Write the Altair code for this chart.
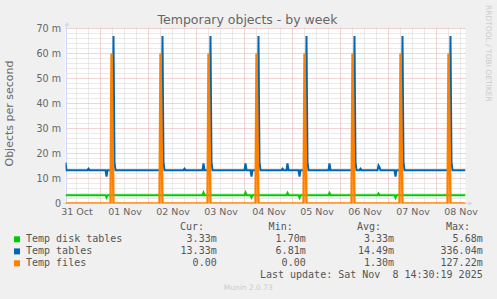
import altair as alt
import pandas as pd

# ------------------------------------------------------------------ data
TITLE = "Temporary objects - by week"
Y_TITLE = "Objects per second"
DAY_LABELS = ["31 Oct", "01 Nov", "02 Nov", "03 Nov", "04 Nov",
              "05 Nov", "06 Nov", "07 Nov", "08 Nov"]
DAY_LABEL_HOURS = [12, 36, 60, 84, 108, 132, 156, 180, 204]   # hours since 31 Oct 00:00
Y_TICKS = [0, 10, 20, 30, 40, 50, 60, 70]                      # milli objects / s
X_DOMAIN = [6.5, 206.5]
Y_DOMAIN = [0, 70]

# Temp disk tables (hours, milli/s)
disk_t = [6.5, 26.5, 27, 27.5, 75, 75.5, 76, 96, 96.5, 97, 99, 99.5, 100,
          117, 117.5, 118, 123, 123.5, 124, 138, 138.5, 139, 162.5, 163, 163.5,
          171, 171.5, 172, 206.5]
disk_v = [3.33, 3.33, 2.4, 3.33, 3.33, 4.4, 3.33, 3.33, 4.4, 3.33, 3.33, 2.4, 3.33,
          3.33, 4.2, 3.33, 3.33, 2.3, 3.33, 3.33, 4.2, 3.33, 3.33, 4.0, 3.33,
          3.33, 2.3, 3.33, 3.33]

# Temp tables
tables_t = [6.5, 7, 17.5, 18, 18.5, 26.5, 27, 27.5,
            30, 30.5, 31, 31.5,
            54.5, 55, 55.5, 56,
            65.5, 66, 66.5, 75, 75.5, 76,
            78.5, 79, 79.5, 80,
            96, 96.5, 97, 99, 99.5, 100,
            102.5, 103, 103.5, 104,
            114.5, 115, 115.5, 117, 117.5, 118, 123, 123.5, 124,
            126.5, 127, 127.5, 128,
            138, 138.5, 139,
            150.5, 151, 151.5, 152,
            153.5, 154, 154.5, 162.5, 163, 163.5, 164, 171, 171.5, 172,
            174.5, 175, 175.5, 176,
            198.5, 199, 199.5, 200,
            206.5]
tables_v = [16.3, 13.33, 13.33, 13.9, 13.33, 13.33, 10.8, 13.33,
            13.33, 67, 16.5, 13.33,
            13.33, 67, 16.5, 13.33,
            13.33, 13.9, 13.33, 13.33, 16.0, 13.33,
            13.33, 67, 16.5, 13.33,
            13.33, 16.0, 13.33, 13.33, 10.8, 13.33,
            13.33, 67, 16.5, 13.33,
            13.33, 13.9, 13.33, 13.33, 16.0, 13.33, 13.33, 10.8, 13.33,
            13.33, 67, 16.5, 13.33,
            13.33, 16.0, 13.33,
            13.33, 67, 16.5, 13.33,
            13.33, 13.9, 13.33, 13.33, 15.2, 14.5, 13.33, 13.33, 10.8, 13.33,
            13.33, 67, 16.5, 13.33,
            13.33, 67, 16.5, 13.33,
            13.33]

# Temp files
files_t = [6.5, 29, 29.5, 30.5, 53.5, 54, 55, 77.5, 78, 79, 101.5, 102, 103,
           125.5, 126, 127, 149.5, 150, 151, 173.5, 174, 175,
           197.5, 198, 199, 206.5]
files_v = [0, 0, 60, 0, 0, 60, 0, 0, 60, 0, 0, 60, 0,
           0, 60, 0, 0, 60, 0, 0, 60, 0,
           0, 60, 0, 0]

NAMES = ["Temp disk tables", "Temp tables", "Temp files"]
COLORS = ["#00CC00", "#0066B3", "#FF8000"]
CUR = ["3.33m", "13.33m", "0.00 "]
MIN = ["1.70m", "6.81m", "0.00 "]
AVG = ["3.33m", "14.49m", "1.30m"]
MAX = ["5.68m", "336.04m", "127.22m"]
HEADERS = ["Cur:", "Min:", "Avg:", "Max:"]
LAST_UPDATE = "Last update: Sat Nov  8 14:30:19 2025"
FOOTER = "Munin 2.0.73"
WATERMARK = "RRDTOOL / TOBI OETIKER"

# ------------------------------------------------------------------ style
W, H = 400, 175
PAD_L, PAD_T = 65.5, 28.5
SANS = "DejaVu Sans"
MONO = "DejaVu Sans Mono"
TXT = "#666666"
LEG = "#555555"
AXC = "#CFD6F8"
MAJOR = "#E8ABAB"
MINOR = "#D4D4D4"


def nb(s):
    s = s.replace("  ", " \u00a0")
    if s.endswith(" "):
        s = s[:-1] + "\u00a0"
    return s


def ax(px):      # absolute page x -> plot-relative
    return px - PAD_L


def ay(py):
    return py - PAD_T


xs = alt.Scale(domain=X_DOMAIN, nice=False, zero=False)
ys = alt.Scale(domain=Y_DOMAIN, nice=False, zero=False)
label_arr = "[" + ",".join("'%s'" % d for d in DAY_LABELS) + "]"
x_axis = alt.Axis(values=DAY_LABEL_HOURS,
                  labelExpr=label_arr + "[round((datum.value-12)/24)]",
                  grid=False, ticks=False, domain=False, title=None,
                  labelFont=SANS, labelFontSize=9.5, labelColor=TXT,
                  labelPadding=3, labelFlush=False, labelBound=False, labelOverlap=False)
y_axis = alt.Axis(values=Y_TICKS,
                  labelExpr="datum.value == 0 ? '0' : datum.value + ' m'",
                  grid=False, ticks=False, domain=False, title=None,
                  labelFont=SANS, labelFontSize=9.6, labelColor=TXT,
                  labelPadding=5, labelOverlap=False)

one = pd.DataFrame({"a": [0]})


def grid_x(vals, color):
    return alt.Chart(pd.DataFrame({"g": vals})).mark_rule(
        color=color, strokeWidth=1, strokeDash=[1, 1]).encode(
        x=alt.X("g:Q", scale=xs, axis=x_axis))


def grid_y(vals, color):
    return alt.Chart(pd.DataFrame({"g": vals})).mark_rule(
        color=color, strokeWidth=1, strokeDash=[1, 1]).encode(
        y=alt.Y("g:Q", scale=ys, axis=y_axis))


def line(t, v, color, sw=2):
    return alt.Chart(pd.DataFrame({"t": t, "v": v})).mark_line(
        color=color, strokeWidth=sw, clip=True).encode(
        x=alt.X("t:Q", scale=xs, axis=x_axis),
        y=alt.Y("v:Q", scale=ys, axis=y_axis))


def text(s, x, y, align="left", size=10, font=MONO, color=LEG, angle=0, baseline="middle"):
    return alt.Chart(pd.DataFrame({"s": [s]})).mark_text(
        align=align, baseline=baseline, font=font, fontSize=size,
        color=color, angle=angle).encode(
        text="s:N", x=alt.value(ax(x)), y=alt.value(ay(y)))


minor_x = [h for h in range(12, 207, 6) if h % 24]
major_x = [h for h in range(24, 207, 24)]
minor_y = [v for v in range(2, 70, 2) if v % 10]
major_y = [v for v in range(10, 71, 10)]

layers = [
    grid_x(minor_x, MINOR), grid_y(minor_y, MINOR),
    grid_x(major_x, MAJOR), grid_y(major_y, MAJOR),
    # axis lines + arrows
    alt.Chart(one).mark_rule(color=AXC, strokeWidth=1).encode(
        x=alt.value(1), y=alt.value(-3), y2=alt.value(H)),
    alt.Chart(one).mark_rule(color=AXC, strokeWidth=1).encode(
        x=alt.value(-2), x2=alt.value(403), y=alt.value(H)),
    alt.Chart(one).mark_point(shape="triangle-up", filled=True, size=22, color=AXC, opacity=1).encode(
        x=alt.value(ax(67)), y=alt.value(ay(23.7))),
    alt.Chart(one).mark_point(shape="triangle-right", filled=True, size=22, color=AXC, opacity=1).encode(
        x=alt.value(ax(470.5)), y=alt.value(ay(203.5))),
    line(disk_t, disk_v, COLORS[0]),
    line(tables_t, tables_v, COLORS[1]),
    line(files_t, files_v, COLORS[2], sw=2.4),
    # titles
    text(TITLE, 247.5, 24, align="center", size=12.5, font=SANS, color=TXT, baseline="alphabetic"),
    text(Y_TITLE, 10, 113.5, align="center", size=11, font=SANS, color=TXT, angle=270),
    text(WATERMARK, 487.5, 53.3, align="center", size=7.5, font=SANS, color="#CCCCCC", angle=90),
    text(FOOTER, 248.3, 288.3, align="center", size=7.5, font=SANS, color="#CCCCCC"),
    text(nb(LAST_UPDATE), 482.7, 275, align="right"),
]

head_x = [204, 292.7, 381, 470]
col_x = [216.7, 305.7, 394, 482.7]
for hx, h in zip(head_x, HEADERS):
    layers.append(text(h, hx, 227.3, align="right"))

row_y = [239.3, 251.4, 263.3]
for i, name in enumerate(NAMES):
    ry = row_y[i]
    layers.append(alt.Chart(one).mark_square(size=36, filled=True, color=COLORS[i], opacity=1).encode(
        x=alt.value(ax(17)), y=alt.value(ay(ry))))
    layers.append(text(name, 26, ry))
    for cx, col in zip(col_x, [CUR, MIN, AVG, MAX]):
        layers.append(text(nb(col[i]), cx, ry, align="right"))

chart = alt.layer(*layers).properties(
    width=W, height=H,
    autosize=alt.AutoSizeParams(type="none"),
    padding={"left": PAD_L, "top": PAD_T, "right": 497 - PAD_L - W, "bottom": 299 - PAD_T - H},
    background="#F0F0F0",
).configure_view(stroke=None, fill="white")

chart.save("out.html", embed_options={"renderer": "svg", "actions": False})
